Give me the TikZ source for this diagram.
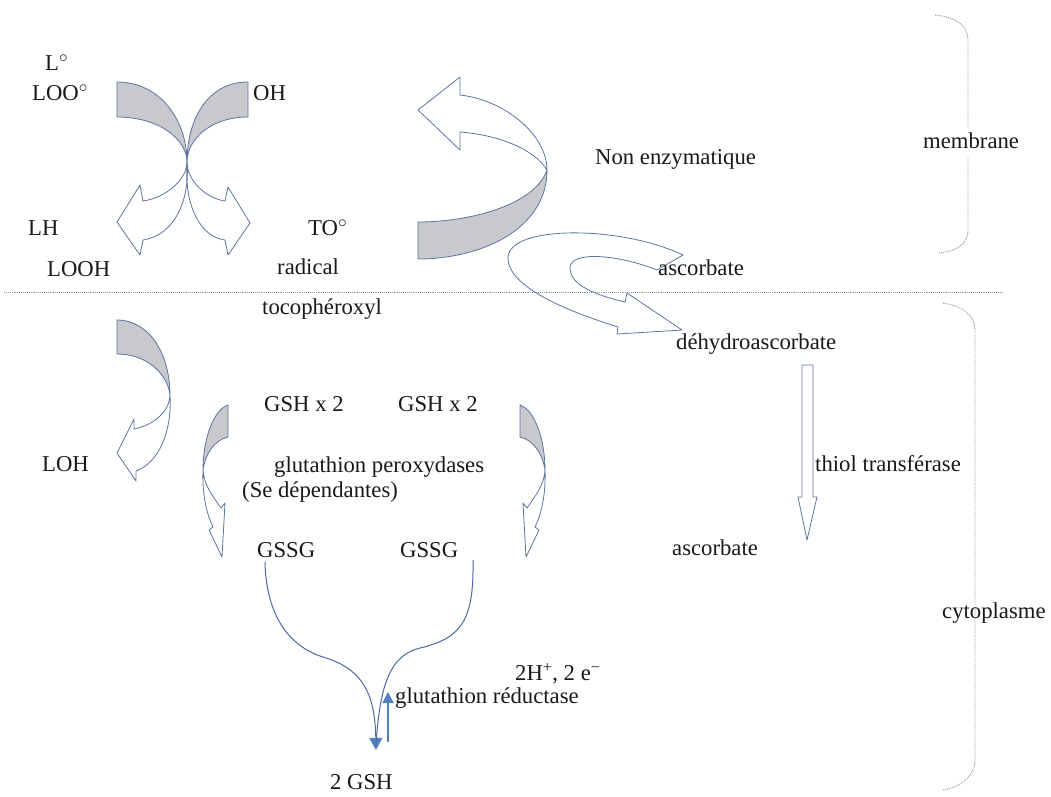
\documentclass[tikz,border=0pt]{standalone}
\usepackage{fontspec}
\setmainfont{Liberation Serif}
\usetikzlibrary{arrows.meta}
\definecolor{edgec}{RGB}{95,115,160}
\definecolor{shadec}{RGB}{200,200,205}
\definecolor{curvec}{RGB}{75,105,160}
\definecolor{tipc}{RGB}{79,129,189}
\definecolor{dotc}{RGB}{135,145,170}
\definecolor{inkc}{RGB}{25,25,25}
\begin{document}
\begin{tikzpicture}[x=1pt,y=-1pt,
  lbl/.style={anchor=base west, inner sep=0pt, text=inkc, font=\fontsize{22.7}{26}\selectfont},
  blk/.style={draw=edgec, line width=0.8pt, line join=round},
  gry/.style={blk, fill=shadec},
  sepline/.style={draw=dotc, densely dotted, line width=0.9pt},
  flow/.style={draw=curvec, line width=1pt},
  tiparrow/.style={-{Triangle[length=12pt,width=13pt,color=tipc]}}]
\useasboundingbox (0,0) rectangle (1051,796);

% ---- crossing arrows (top left)
\path[gry] (117,82) .. controls (160,82) and (187,120) .. (187,162)
   .. controls (187,140) and (160,117) .. (117,117) -- cycle;
\path[blk] (187,162) .. controls (187,180) and (165,198) .. (143,201)
   -- (140,185) -- (117,222) -- (140,255) -- (143,240)
   .. controls (175,235) and (190,200) .. (187,162) -- cycle;
\path[gry] (248,82) .. controls (207,82) and (187,120) .. (187,162)
   .. controls (187,140) and (210,117) .. (248,117) -- cycle;
\path[blk] (187,162) .. controls (187,180) and (205,198) .. (225,201)
   -- (228,187) -- (250,223) -- (228,255) -- (225,240)
   .. controls (200,237) and (184,205) .. (187,162) -- cycle;

% ---- big curved arrow (non enzymatique)
\path[gry] (547,170) .. controls (547,230) and (480,259) .. (418,259)
   -- (418,222) .. controls (470,222) and (535,205) .. (547,170) -- cycle;
\path[blk] (547,170) .. controls (547,135) and (505,100) .. (460,95)
   -- (460,77) -- (418,110) -- (460,150) -- (460,132)
   .. controls (500,135) and (535,150) .. (547,170) -- cycle;

% ---- U-turn arrow ascorbate -> dehydroascorbate
\path[blk] (683,255) .. controls (620,225) and (508,225) .. (508,258)
   .. controls (508,290) and (580,315) .. (618,327)
   -- (617,334) -- (682,330) -- (627,293) -- (625,302)
   .. controls (595,295) and (570,285) .. (570,268)
   .. controls (570,250) and (620,255) .. (657,270) -- cycle;

% ---- LOH arrow
\path[gry] (117,320) .. controls (150,320) and (170,355) .. (170,395)
   .. controls (168,375) and (148,354) .. (117,354) -- cycle;
\path[blk] (170,395) .. controls (170,410) and (155,425) .. (134,429)
   -- (134,419) -- (117,453) -- (136,481) -- (136,471)
   .. controls (160,462) and (172,430) .. (170,395) -- cycle;

% ---- small GSH arrows
\path[gry] (228,405) .. controls (213,410) and (203,440) .. (203,470)
   .. controls (205,455) and (214,440) .. (228,437) -- cycle;
\path[blk] (203,470) .. controls (202,495) and (207,515) .. (213,527)
   -- (209,530) -- (222,557) -- (225,503) -- (221,508)
   .. controls (212,495) and (204,485) .. (203,470) -- cycle;
\begin{scope}[xshift=748pt, xscale=-1]
\path[gry] (228,405) .. controls (213,410) and (203,440) .. (203,470)
   .. controls (205,455) and (214,440) .. (228,437) -- cycle;
\path[blk] (203,470) .. controls (202,495) and (207,515) .. (213,527)
   -- (209,530) -- (222,557) -- (225,503) -- (221,508)
   .. controls (212,495) and (204,485) .. (203,470) -- cycle;
\end{scope}

% ---- thiol transferase arrow
\path[blk] (802,365) -- (813,365) -- (813,497) -- (817,497) -- (807,540)
   -- (798,497) -- (802,497) -- cycle;

% ---- separator and braces
\draw[sepline] (4,292) -- (1002,292);
\draw[sepline] (935,15) .. controls (955,17) and (968,25) .. (968,40) -- (968,127);
\draw[sepline] (968,158) -- (968,230) .. controls (968,245) and (955,252) .. (938,253);
\draw[sepline] (943,303) .. controls (962,306) and (975,315) .. (975,330) -- (975,760)
   .. controls (975,775) and (962,787) .. (943,790);

% ---- labels
\node[lbl] (lrad)  at (45,70)   {L$^{\circ}$};
\node[lbl] (loorad) at (32,100) {LOO$^{\circ}$};
\node[lbl] (oh)    at (253,100) {OH};
\node[lbl] (lh)    at (28,235)  {LH};
\node[lbl] (torad) at (308,235) {TO$^{\circ}$};
\node[lbl] (looh)  at (47,276)  {LOOH};
\node[lbl] (radical) at (277,274) {radical};
\node[lbl] (toco)  at (262,314) {tocophéroxyl};
\node[lbl] (nonenz) at (595,164) {Non enzymatique};
\node[lbl] (membr) at (923,148) {membrane};
\node[lbl] (asc1)  at (658,275) {ascorbate};
\node[lbl] (dha)   at (676,349) {déhydroascorbate};
\node[lbl] (gsha)  at (264,411) {GSH x 2};
\node[lbl] (gshb)  at (398,411) {GSH x 2};
\node[lbl] (loh)   at (42,471)  {LOH};
\node[lbl] (gpx)   at (274,472) {glutathion peroxydases};
\node[lbl] (sedep) at (242,497) {(Se dépendantes)};
\node[lbl] (thiol) at (815,471) {thiol transférase};
\node[lbl] (gssga) at (257,557) {GSSG};
\node[lbl] (gssgb) at (400,557) {GSSG};
\node[lbl] (asc2)  at (672,555) {ascorbate};
\node[lbl] (cyto)  at (942,618) {cytoplasme};
\node[lbl] (hplus) at (515,680) {2H\textsuperscript{+}, 2 e\textsuperscript{\textminus}};
\node[lbl] (gred)  at (395,703) {glutathion réductase};
\node[lbl] (gsh2)  at (330,789) {2 GSH};

% ---- GSSG -> 2 GSH curves
\coordinate (la) at (265,562);
\coordinate (ra) at (473,560);
\coordinate (bot) at (376,750);
\coordinate (rb) at (376,745);
\coordinate (upb) at (388,742);
\coordinate (upt) at (388,692);
\draw[flow, tiparrow] (la) .. controls (266,610) and (285,645) .. (323,657)
   .. controls (360,668) and (375,690) .. (bot);
\draw[flow] (ra) .. controls (474,620) and (462,638) .. (420,648)
   .. controls (392,655) and (380,680) .. (rb);
\draw[draw=tipc, line width=1.6pt, -{Triangle[length=11pt,width=11pt]}] (upb) -- (upt);
\end{tikzpicture}
\end{document}
